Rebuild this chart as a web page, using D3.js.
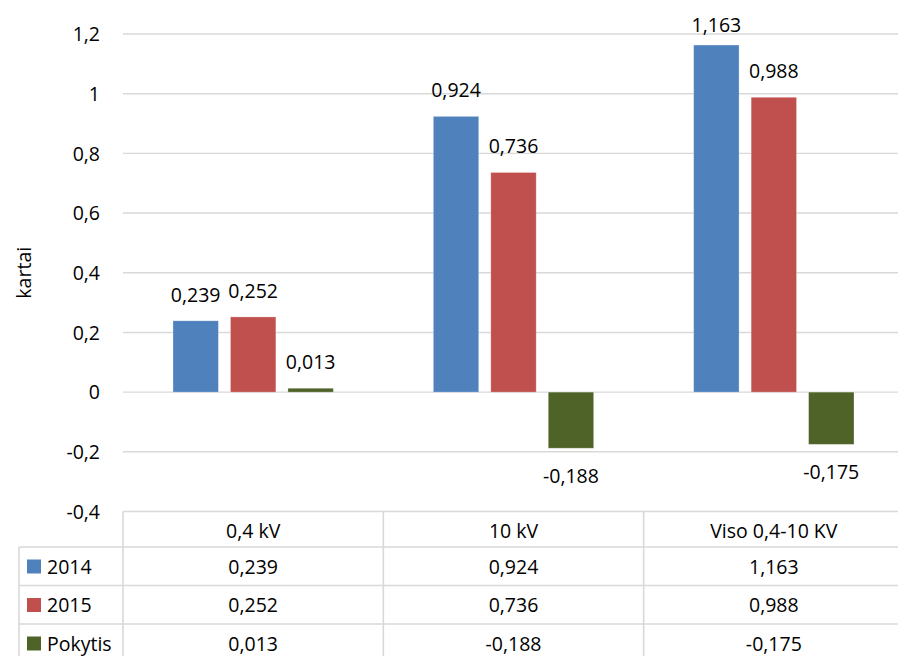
<!DOCTYPE html>
<html>
<head>
<meta charset="utf-8">
<script src="https://cdn.jsdelivr.net/npm/d3@7"></script>
<style>
  html, body { margin: 0; padding: 0; background: #fff; }
  svg { display: block; font-family: "Open Sans", "Noto Sans", sans-serif; }
</style>
</head>
<body>
<svg id="chart" width="898" height="656"></svg>
<script>
// Categories and series values
const categories = ["0,4 kV", "10 kV", "Viso 0,4-10 KV"];
const seriesNames = ["2014", "2015", "Pokytis"];
const values2014 = [0.239, 0.924, 1.163];
const values2015 = [0.252, 0.736, 0.988];
const valuesPokytis = [0.013, -0.188, -0.175];
const yTicks = [-0.4, -0.2, 0, 0.2, 0.4, 0.6, 0.8, 1, 1.2];
const yAxisTitle = "kartai";
const colors = ["#4F81BD", "#C0504D", "#4F6228"];

const seriesValues = [values2014, values2015, valuesPokytis];

const svg = d3.select("#chart");
const W = 898, H = 656;
const plot = { left: 123, right: 904, top: 34, bottom: 511.5 };
const tableLeft = 19;
const headerH = 35.5;
const rowH = 38.5;
const gridColor = "#d9d9d9";
const fontSize = 19.5;

// decimal comma, plain hyphen for negatives
const fmt = v => String(+v.toFixed(3)).replace(".", ",");

const x = d3.scaleBand().domain(categories).range([plot.left, plot.right]).padding(0);
const xs = d3.scaleBand().domain(seriesNames).range([0, x.bandwidth()])
  .paddingInner(0.21).paddingOuter(0.87);
const y = d3.scaleLinear().domain([-0.4, 1.2]).range([plot.bottom, plot.top]);

// Horizontal gridlines
svg.append("g").selectAll("line").data(yTicks).join("line")
  .attr("x1", plot.left).attr("x2", W)
  .attr("y1", d => y(d)).attr("y2", d => y(d))
  .attr("stroke", gridColor).attr("stroke-width", 1.4);

// Y axis labels
const yAxis = d3.axisLeft(y).tickValues(yTicks).tickSize(0).tickPadding(0)
  .tickFormat(d => String(+d.toFixed(1)).replace(".", ","));
const yg = svg.append("g").attr("transform", `translate(100,0)`).call(yAxis);
yg.select(".domain").remove();
yg.selectAll("text")
  .attr("font-family", "'Open Sans', sans-serif")
  .attr("font-size", fontSize).attr("fill", "#000")
  .attr("dy", "0.34em");

// Y axis title
svg.append("text")
  .attr("transform", `translate(31,${(plot.top + plot.bottom) / 2}) rotate(-90)`)
  .attr("text-anchor", "middle")
  .attr("font-size", fontSize).attr("fill", "#000")
  .text(yAxisTitle);

// Bars
const barData = [];
categories.forEach((c, ci) => {
  seriesNames.forEach((s, si) => {
    barData.push({ cat: c, series: s, si, value: seriesValues[si][ci] });
  });
});

svg.append("g").selectAll("rect").data(barData).join("rect")
  .attr("x", d => x(d.cat) + xs(d.series))
  .attr("width", xs.bandwidth())
  .attr("y", d => Math.min(y(d.value), y(0)))
  .attr("height", d => Math.abs(y(d.value) - y(0)))
  .attr("fill", d => colors[d.si])
  .attr("stroke", "#fff").attr("stroke-opacity", 0.35).attr("stroke-width", 0.8);

// Value labels
svg.append("g").selectAll("text").data(barData).join("text")
  .attr("x", d => x(d.cat) + xs(d.series) + xs.bandwidth() / 2)
  .attr("y", d => d.value >= 0 ? Math.max(y(d.value) - 19, 32) : y(d.value) + 35)
  .attr("text-anchor", "middle")
  .attr("font-size", fontSize).attr("fill", "#000")
  .text(d => fmt(d.value));

// Data table
const tg = svg.append("g");
const tableTop = plot.bottom;
const lineAttrs = sel => sel.attr("stroke", gridColor).attr("stroke-width", 1.6);

const rowTops = [tableTop + headerH, tableTop + headerH + rowH, tableTop + headerH + 2 * rowH];
// row separators (data rows extend under the legend column)
[...rowTops, tableTop + headerH + 3 * rowH].forEach(yy => {
  tg.append("line").attr("x1", tableLeft).attr("x2", W).attr("y1", yy).attr("y2", yy).call(lineAttrs);
});
// vertical lines
tg.append("line").attr("x1", tableLeft).attr("x2", tableLeft)
  .attr("y1", rowTops[0]).attr("y2", H).call(lineAttrs);
[plot.left, ...categories.slice(1).map(c => x(c)), plot.right].forEach(xx => {
  tg.append("line").attr("x1", xx).attr("x2", xx)
    .attr("y1", tableTop).attr("y2", H).call(lineAttrs);
});

// category headers
tg.selectAll("text.cat").data(categories).join("text").attr("class", "cat")
  .attr("x", d => x(d) + x.bandwidth() / 2)
  .attr("y", tableTop + 26)
  .attr("text-anchor", "middle")
  .attr("font-size", fontSize).attr("fill", "#000")
  .text(d => d);

// series rows
seriesNames.forEach((s, si) => {
  const top = rowTops[si];
  tg.append("rect")
    .attr("x", 27).attr("y", top + 12.5).attr("width", 14).attr("height", 14)
    .attr("fill", colors[si]);
  tg.append("text")
    .attr("x", 47).attr("y", top + 26.5)
    .attr("font-size", fontSize).attr("fill", "#000")
    .text(s);
  tg.selectAll(null).data(categories).join("text")
    .attr("x", d => x(d) + x.bandwidth() / 2)
    .attr("y", top + 26.5)
    .attr("text-anchor", "middle")
    .attr("font-size", fontSize).attr("fill", "#000")
    .text((d, ci) => fmt(seriesValues[si][ci]));
});
</script>
</body>
</html>
